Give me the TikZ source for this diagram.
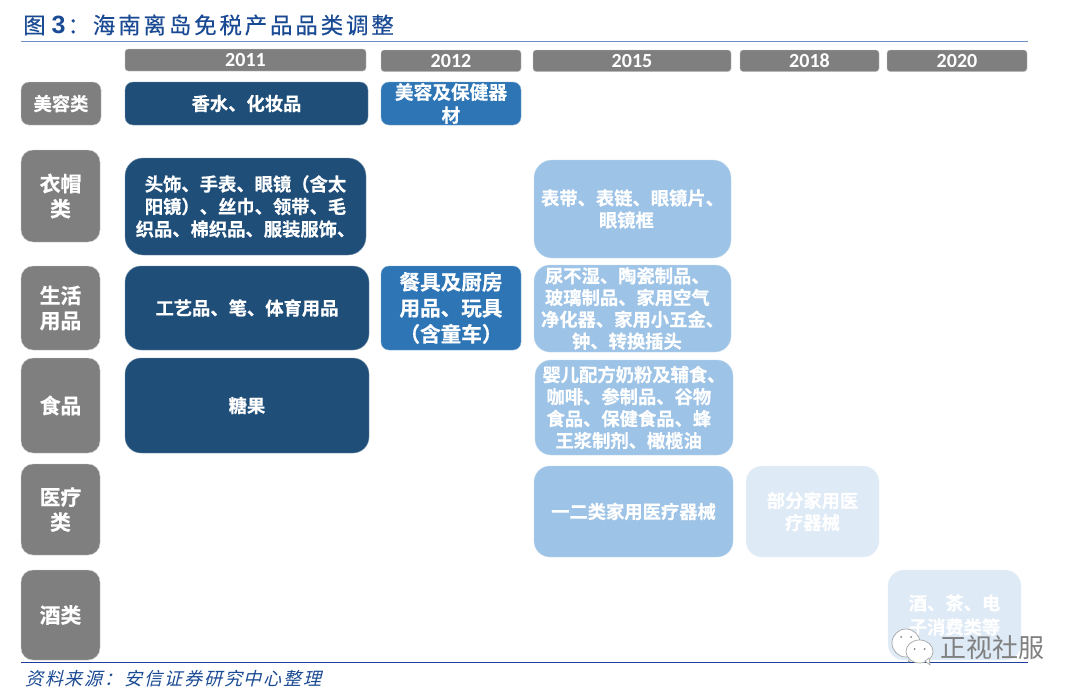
\documentclass[tikz,border=0pt]{standalone}
\usepackage{fontspec}
\setmainfont{Noto Sans CJK SC}
\newfontfamily\cjkbold[FakeBold=0.5]{Noto Sans CJK SC Bold}
\newfontfamily\titlefont[LetterSpace=12.5,FakeBold=0.3]{Noto Sans CJK SC}
\newfontfamily\srcfont[LetterSpace=10.5,FakeSlant=0.25]{Noto Sans CJK SC}
\newfontfamily\yearfont{Carlito}
\newfontfamily\numfont{Liberation Sans}
\definecolor{cgray}{HTML}{7F7F7F}
\definecolor{cdark}{HTML}{1F4E79}
\definecolor{cmid}{HTML}{2E75B6}
\definecolor{clight}{HTML}{9DC3E6}
\definecolor{cpale}{HTML}{DEEAF6}
\definecolor{ctitle}{HTML}{1B4A94}
\definecolor{crule}{HTML}{1F3F9A}
\definecolor{crule2}{HTML}{6E8FC4}
\tikzset{
  box/.style={rectangle,inner sep=0pt,align=center,text=white,font=\cjkbold\fontsize{18.3}{22}\selectfont},
  yearbox/.style={box,fill=cgray,draw=cgray!40,line width=.4pt,rounded corners=3pt,font=\yearfont\bfseries\fontsize{20}{22}\selectfont},
  catbox/.style={box,fill=cgray,draw=cgray!40,line width=.4pt,rounded corners=12pt,font=\cjkbold\fontsize{20.8}{25}\selectfont},
  catsmall/.style={catbox,rounded corners=8pt,font=\cjkbold\fontsize{18.3}{22}\selectfont},
  darkbox/.style={box,fill=cdark,draw=cdark!60,line width=.4pt,rounded corners=16pt},
  darksmall/.style={darkbox,rounded corners=8pt},
  midbox/.style={box,fill=cmid,draw=cmid!60,line width=.4pt,rounded corners=8pt},
  lightbox/.style={box,fill=clight,draw=clight!60,line width=.4pt,rounded corners=16pt},
  palebox/.style={box,fill=cpale,draw=cpale!60,line width=.4pt,rounded corners=16pt},
  bubble/.style={draw=gray!70,fill=white,line width=.7pt},
}
\newcommand{\bx}[7]{%
  \pgfmathsetlengthmacro{\bw}{#5-#3}%
  \pgfmathsetlengthmacro{\bh}{#6-#4}%
  \node[#1,minimum width=\bw,minimum height=\bh] (#2) at ({(#3+#5)/2},{(#4+#6)/2}) {#7};%
}
\newcommand{\ind}[1]{\leavevmode\kern#1pt\relax}
\begin{document}
\begin{tikzpicture}[x=1pt,y=-1pt]
\useasboundingbox[fill=white] (0,0) rectangle (1080,696);
% title
\node[anchor=west,inner sep=0pt,text=ctitle] (title) at (23,25) {{\titlefont\fontsize{22.5}{26}\selectfont 图}\hspace{6pt}{\numfont\bfseries\fontsize{25}{26}\selectfont 3}\hspace{2pt}{\titlefont\fontsize{22.5}{26}\selectfont ：海南离岛免税产品品类调整}};
\coordinate (tl) at (21,41.5); \coordinate (tr) at (1028,41.5);
\draw[crule2,line width=1pt] (tl) -- (tr);
% years
\bx{yearbox}{y11}{125}{49}{366}{71}{2011}
\bx{yearbox}{y12}{381}{50}{521}{71.5}{2012}
\bx{yearbox}{y15}{533}{50}{731}{71.5}{2015}
\bx{yearbox}{y18}{740}{50}{879}{71.5}{2018}
\bx{yearbox}{y20}{887}{50}{1027}{71.5}{2020}
% categories
\bx{catsmall}{c1}{21}{82}{101}{125}{美容类}
\bx{catbox}{c2}{21}{150}{100}{242}{衣帽\\类}
\bx{catbox}{c3}{21}{266}{100}{350}{生活\\用品}
\bx{catbox}{c4}{21}{358}{100}{453}{食品}
\bx{catbox}{c5}{21}{464}{100}{555}{医疗\\类}
\bx{catbox}{c6}{21}{570}{100}{660}{酒类}
% 2011
\bx{darksmall}{a1}{125}{82}{368}{125}{香水、化妆品}
\bx{darkbox,rounded corners=18pt,font=\cjkbold\fontsize{18.3}{22.5}\selectfont}{a2}{125}{158}{366}{255}{头饰、手表、眼镜（含太\\阳镜）、丝巾、领带、毛\\织品、棉织品、服装服饰、}
\bx{darkbox}{a3}{125}{266}{369}{350}{工艺品、笔、体育用品}
\bx{darkbox}{a4}{125}{358}{369}{453}{糖果}
% 2012
\bx{midbox,font=\cjkbold\fontsize{18.7}{23}\selectfont}{b1}{381}{82}{521}{125}{美容及保健器\\材}
\bx{midbox,font=\cjkbold\fontsize{20.6}{26}\selectfont}{b2}{381}{266}{521}{350}{餐具及厨房\\用品、玩具\\（含童车）}
% 2015
\bx{lightbox,rounded corners=18pt,align=left}{d1}{534}{160}{731}{258}{表带、表链、眼镜片、\\\ind{58}眼镜框}
\bx{lightbox,align=left,font=\cjkbold\fontsize{18.3}{21.8}\selectfont}{d2}{534}{265}{731}{352}{\ind{4}尿不湿、陶瓷制品、\\\ind{4}玻璃制品、家用空气\\净化器、家用小五金、\\\ind{31}钟、转换插头}
\bx{lightbox,align=left}{d3}{535}{360}{733}{455}{婴儿配方奶粉及辅食、\\\ind{4}咖啡、参制品、谷物\\\ind{4}食品、保健食品、蜂\\\ind{13}王浆制剂、橄榄油}
\bx{lightbox}{d4}{534}{466}{733}{557}{一二类家用医疗器械}
% 2018, 2020
\bx{palebox}{e1}{746}{466}{879}{557}{部分家用医\\疗器械}
\bx{palebox,font=\cjkbold\fontsize{18.3}{24}\selectfont}{f1}{888}{570}{1021}{660}{酒、茶、电\\子消费类等}
% bottom rule and source
\coordinate (bl) at (21,662.5); \coordinate (br) at (1028,662.5);
\draw[crule,line width=1pt] (bl) -- (br);
\node[anchor=west,inner sep=0pt,text=ctitle] (src) at (25,679) {\srcfont\fontsize{18}{20}\selectfont 资料来源：安信证券研究中心整理};
% watermark
\draw[bubble] (906,643) ellipse (14 and 14);
\draw[bubble] (911,655) -- (908,662) -- (918,658) -- cycle;
\draw[bubble] (919.5,651.5) ellipse (13.5 and 11.5);
\draw[bubble] (925,661) -- (930,665) -- (929,658) -- cycle;
\fill[gray] (901,637) circle (1) (911,637) circle (1) (914.5,649) circle (1) (924.5,649) circle (1);
\node[anchor=west,inner sep=0pt,text=gray] (wm) at (940,648) {\fontsize{26}{28}\selectfont 正视社服};
\end{tikzpicture}
\end{document}
